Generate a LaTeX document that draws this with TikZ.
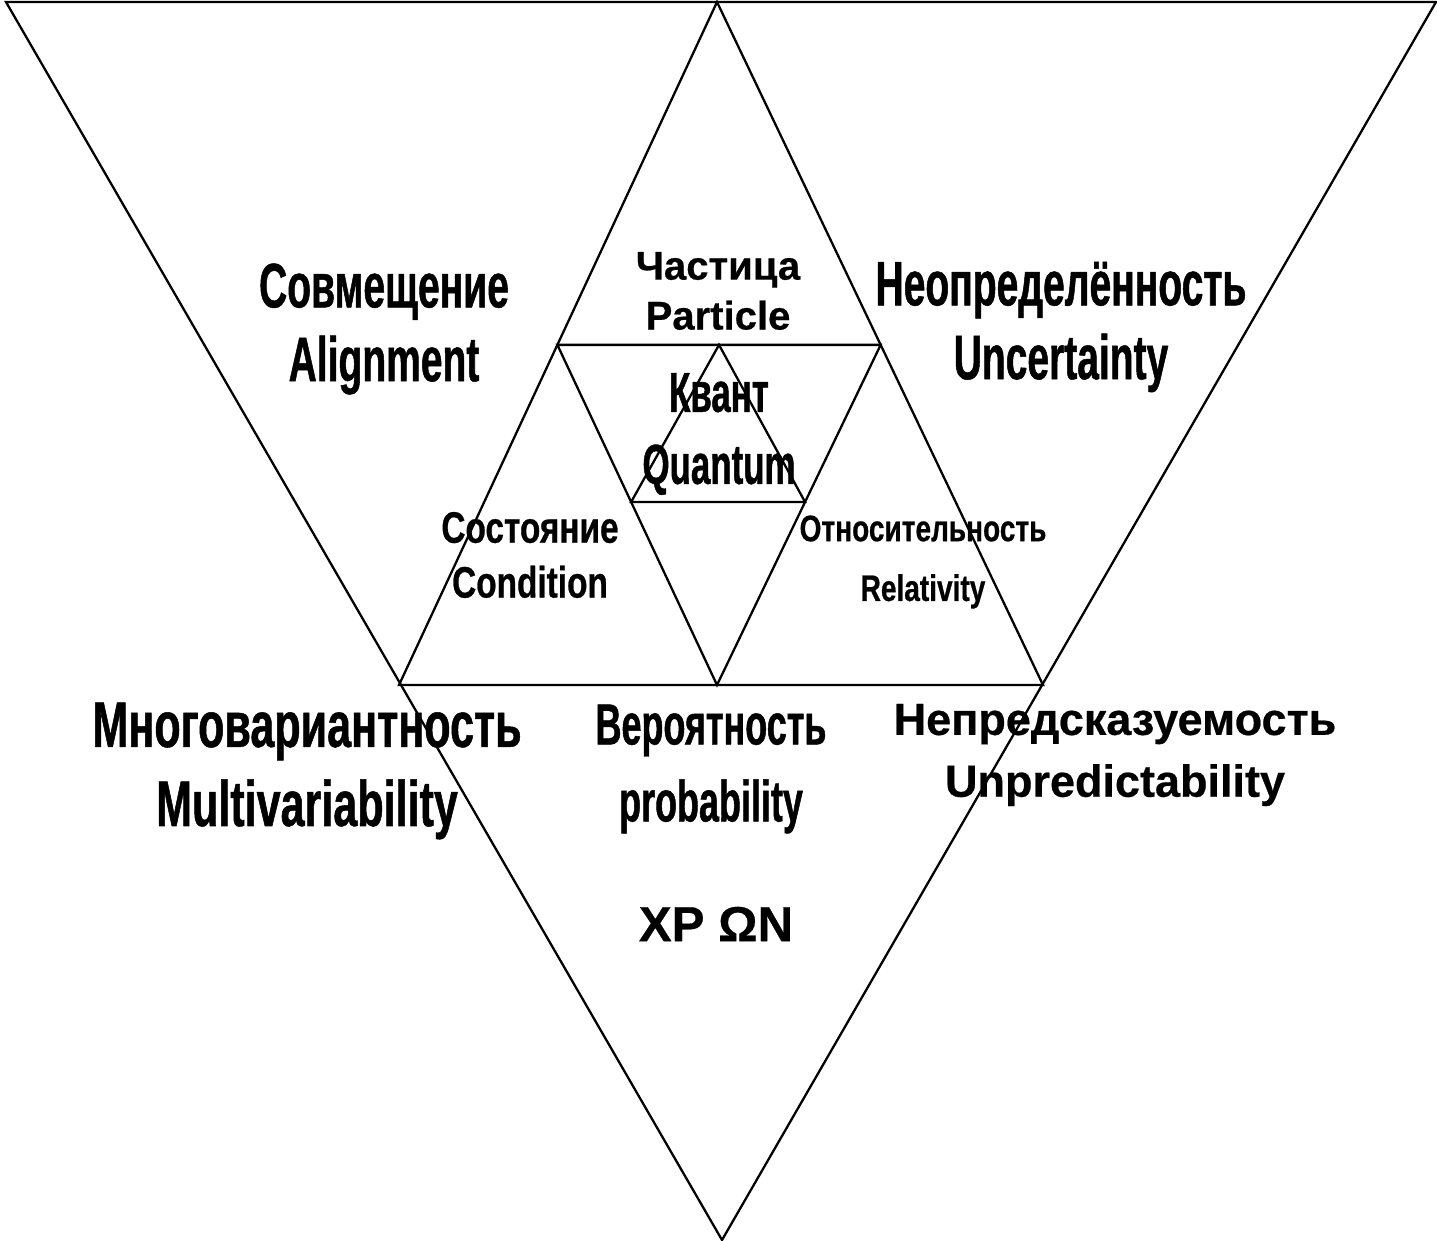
\documentclass[tikz,border=0pt]{standalone}
\usepackage{fontspec}
\setmainfont{Liberation Sans}
\newfontfamily\condfont[FakeStretch=0.62, FakeBold=0.8]{Liberation Sans}
\newfontfamily\widecondfont[FakeStretch=0.67, FakeBold=0.8]{Liberation Sans}
\newfontfamily\semicondfont[FakeStretch=0.76, FakeBold=0.6]{Liberation Sans}
\newfontfamily\heavyfont[FakeBold=0.5]{Liberation Sans}
\usetikzlibrary{calc}

\begin{document}
\begin{tikzpicture}[x=0.1mm, y=-0.1mm]
    % Define styles
    \tikzstyle{edge} = [draw=black, line width=0.65pt, line join=miter]
    \tikzstyle{big} = [align=center, inner sep=0pt, font=\condfont\bfseries\fontsize{17.9}{21}\selectfont]
    \tikzstyle{mid} = [align=center, inner sep=0pt, font=\condfont\bfseries\fontsize{16}{20.5}\selectfont]
    \tikzstyle{small} = [align=center, inner sep=0pt, font=\semicondfont\bfseries\fontsize{12.5}{15.6}\selectfont]
    \tikzstyle{plain} = [align=center, inner sep=0pt, font=\heavyfont\bfseries\fontsize{12.8}{17.6}\selectfont]

    \useasboundingbox (0,0) rectangle (1437,1241);

    % Corners
    \coordinate (topL) at (6,2);
    \coordinate (topR) at (1436,2);
    \coordinate (bottom) at (722,1240);
    \coordinate (apex) at (717,2);
    \coordinate (baseL) at (399,685);
    \coordinate (baseR) at (1043,685);
    \coordinate (baseM) at (717,685);
    \coordinate (cutL) at ($(apex)!0.502!(baseL)$);
    \coordinate (cutR) at ($(apex)!0.502!(baseR)$);
    \coordinate (innL) at ($(cutL)!0.462!(baseM)$);
    \coordinate (innR) at ($(cutR)!0.462!(baseM)$);
    \coordinate (innTop) at ($(cutL)!0.5!(cutR)$);

    % Triangles
    \draw [edge] (topL) -- (topR) -- (bottom) -- cycle;
    \draw [edge] (apex) -- (baseL) -- (baseR) -- cycle;
    \draw [edge] (cutL) -- (cutR) -- (baseM) -- cycle;
    \draw [edge] (innTop) -- (innL) -- (innR) -- cycle;

    % Labels
    \node [big] (align) at (384,329) {Совмещение\\Alignment};
    \node [big] (uncert) at (1061,327) {Неопределённость\\Uncertainty};
    \node [plain, font=\heavyfont\bfseries\fontsize{11.4}{14.2}\selectfont] (particle) at (718,291) {Частица\\Particle};
    \node [mid] (quantum) at (719,434) {Квант\\Quantum};
    \node [small] (condition) at (530,555) {Состояние\\Condition};
    \node [small, font=\semicondfont\bfseries\fontsize{10.5}{17}\selectfont] (relativity) at (923,562) {Относительность\\Relativity};
    \node [big, font=\widecondfont\bfseries\fontsize{18.3}{22.5}\selectfont] (multivar) at (307,771) {Многовариантность\\Multivariability};
    \node [mid, font=\condfont\bfseries\fontsize{16.5}{21.9}\selectfont] (prob) at (711,769) {Вероятность\\probability};
    \node [plain] (unpred) at (1115,755) {Непредсказуемость\\Unpredictability};
    \node [plain, font=\heavyfont\bfseries\fontsize{14}{17}\selectfont] (xpon) at (716,924) {XP ΩN};
\end{tikzpicture}
\end{document}
